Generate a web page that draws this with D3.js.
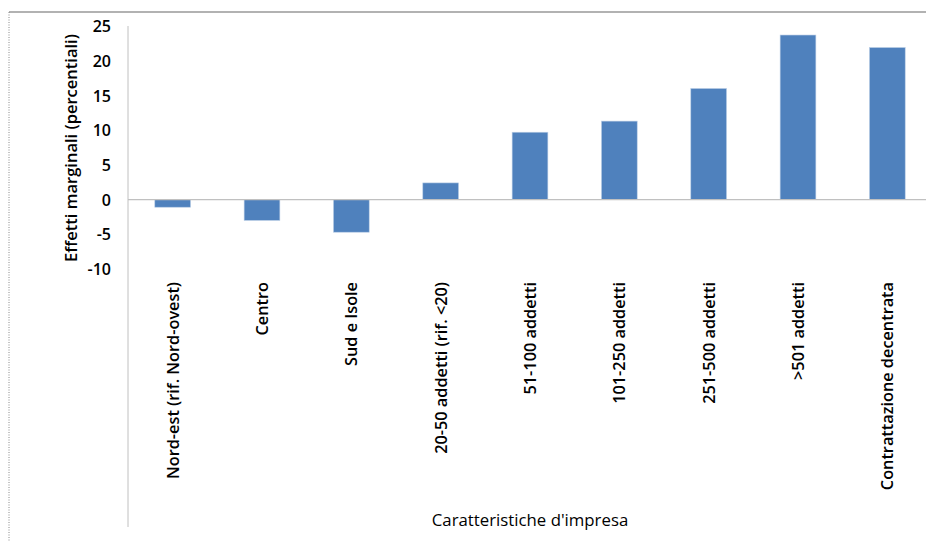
<!DOCTYPE html>
<html>
<head>
<meta charset="utf-8">
<script src="https://cdn.jsdelivr.net/npm/d3@7"></script>
<style>
  body { margin: 0; background: #fff; }
  text { font-family: 'Open Sans', 'Noto Sans', sans-serif; fill: #000; }
</style>
</head>
<body>
<div id="chart"></div>
<script>
// data
let categories = [
  'Nord-est (rif. Nord-ovest)',
  'Centro',
  'Sud e Isole',
  '20-50 addetti (rif. <20)',
  '51-100 addetti',
  '101-250 addetti',
  '251-500 addetti',
  '>501 addetti',
  'Contrattazione decentrata'
]
let values = [-1.1, -3.0, -4.7, 2.4, 9.7, 11.3, 16.0, 23.7, 21.9]
let yTicks = [-10, -5, 0, 5, 10, 15, 20, 25]

let width = 926
let height = 541

let svg = d3.select('#chart')
  .append('svg')
  .attr('width', width)
  .attr('height', height)

// outer frame (top and left edges only visible)
svg.append('line')
  .attr('x1', 9).attr('x2', width).attr('y1', 12).attr('y2', 12)
  .attr('stroke', '#999').attr('stroke-width', 1.5)
svg.append('line')
  .attr('x1', 9).attr('x2', 9).attr('y1', 12).attr('y2', height)
  .attr('stroke', '#888').attr('stroke-dasharray', '1,1.5')

let xScale = d3.scaleBand()
  .domain(categories)
  .range([128, 932])
  .paddingInner(0.6)
  .paddingOuter(0.3)

let yScale = d3.scaleLinear()
  .domain([-10, 25])
  .range([269, 26])

// vertical axis line
svg.append('line')
  .attr('x1', 128).attr('x2', 128)
  .attr('y1', 26).attr('y2', 527)
  .attr('stroke', '#c0c0c0')

// bars
svg.selectAll('.bar')
  .data(values)
  .enter()
  .append('rect')
  .attr('class', 'bar')
  .attr('x', (d, i) => xScale(categories[i]))
  .attr('width', xScale.bandwidth())
  .attr('y', d => yScale(Math.max(0, d)))
  .attr('height', d => Math.abs(yScale(d) - yScale(0)))
  .attr('fill', '#4f81bd')
  .attr('stroke', '#b9cde5')
  .attr('stroke-width', 0.6)

// zero line
svg.append('line')
  .attr('x1', 128).attr('x2', width)
  .attr('y1', yScale(0)).attr('y2', yScale(0))
  .attr('stroke', '#c0c0c0').attr('stroke-width', 1.2)

// y tick labels (plain hyphen for negatives, like the original)
let yAxis = d3.axisLeft(yScale)
  .tickValues(yTicks)
  .tickFormat(d => String(d))
  .tickSize(0)
  .tickPadding(0)
let gy = svg.append('g')
  .attr('transform', 'translate(111,0)')
  .call(yAxis)
gy.select('.domain').remove()
gy.selectAll('text')
  .attr('font-size', 16)
  .attr('font-weight', 600)
  .style('font-family', "'Open Sans', sans-serif")
  .attr('dy', '0.35em')

// category labels
svg.selectAll('.cat')
  .data(categories)
  .enter()
  .append('text')
  .attr('class', 'cat')
  .attr('transform', d => 'translate(' + (xScale(d) + xScale.bandwidth() / 2 + 6) + ',282) rotate(-90)')
  .attr('text-anchor', 'end')
  .attr('font-size', 16.3)
  .attr('font-weight', 600)
  .text(d => d)

// axis titles
svg.append('text')
  .attr('transform', 'translate(77,148) rotate(-90)')
  .attr('text-anchor', 'middle')
  .attr('font-size', 16.5)
  .attr('font-weight', 600)
  .text('Effetti marginali (percentiali)')

svg.append('text')
  .attr('x', 530)
  .attr('y', 526)
  .attr('text-anchor', 'middle')
  .attr('font-size', 16.8)
  .attr('font-weight', 500)
  .text("Caratteristiche d'impresa")
</script>
</body>
</html>
